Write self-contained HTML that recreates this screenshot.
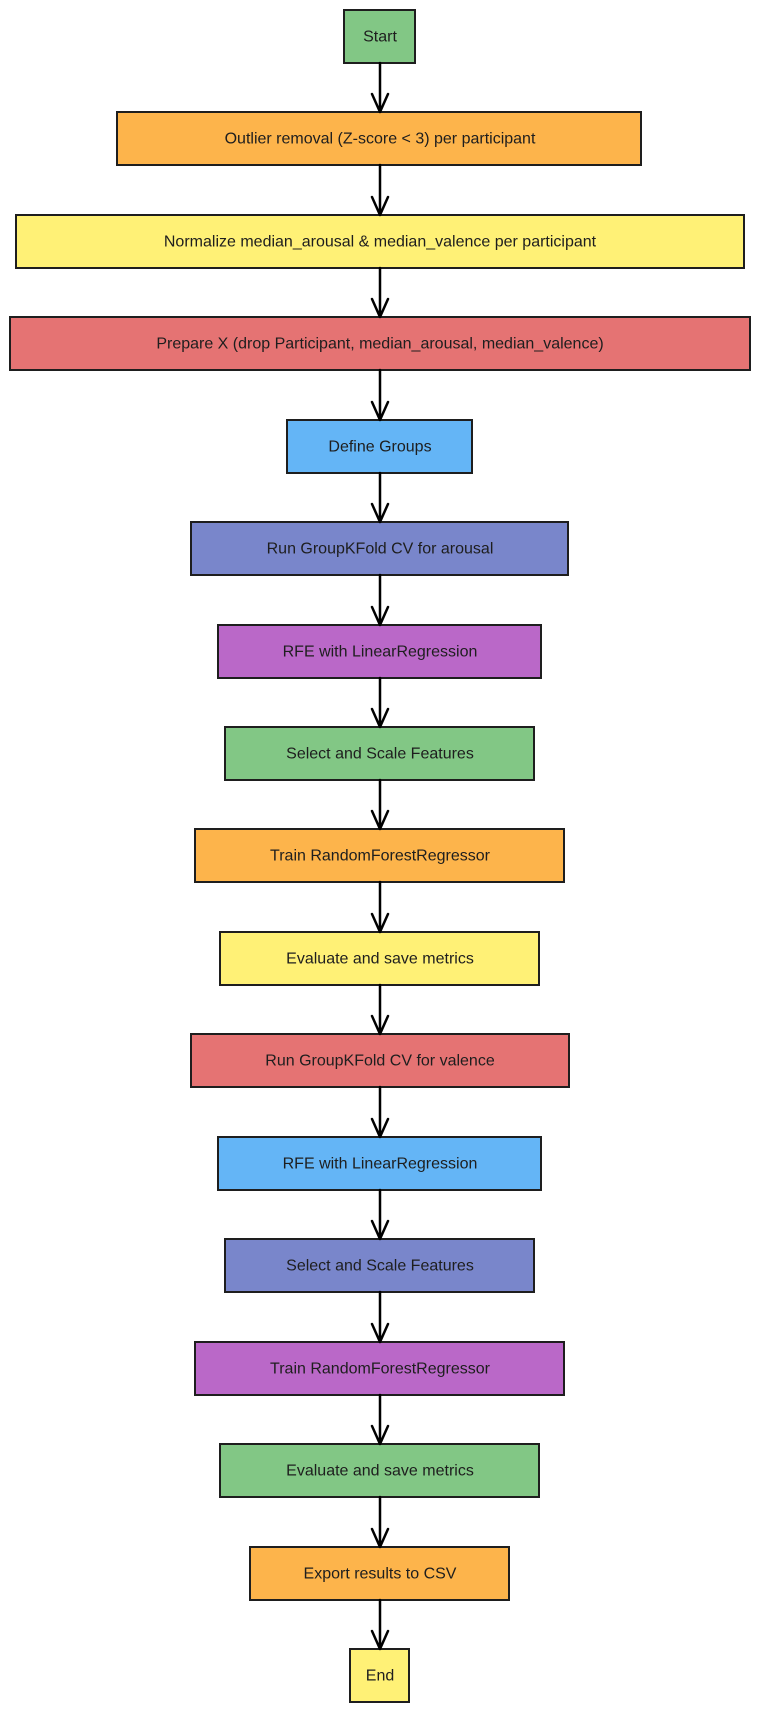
<!DOCTYPE html>
<html><head><meta charset="utf-8"><style>
html,body{margin:0;padding:0;background:#fff;}
svg{display:block;}
text{font-family:"Liberation Sans",sans-serif;font-size:16px;fill:#1e1e1e;text-anchor:middle;dominant-baseline:central;}
rect{stroke:#1e1e1e;stroke-width:2;}
.a{stroke:#000;stroke-width:2.5;fill:none;stroke-linecap:round;stroke-linejoin:round;}
</style></head><body>
<svg width="757" height="1713" viewBox="0 0 757 1713" xmlns="http://www.w3.org/2000/svg">
<g>
<rect x="344" y="10" width="71" height="53" fill="#82c785"/><text x="380" y="37">Start</text>
<rect x="117" y="112" width="524" height="53" fill="#fdb44b"/><text x="380" y="139">Outlier removal (Z-score &lt; 3) per participant</text>
<rect x="16" y="215" width="728" height="53" fill="#fff176"/><text x="380" y="242">Normalize median_arousal &amp; median_valence per participant</text>
<rect x="10" y="317" width="740" height="53" fill="#e57373"/><text x="380" y="344">Prepare X (drop Participant, median_arousal, median_valence)</text>
<rect x="287" y="420" width="185" height="53" fill="#64b5f6"/><text x="380" y="447">Define Groups</text>
<rect x="191" y="522" width="377" height="53" fill="#7986cb"/><text x="380" y="549">Run GroupKFold CV for arousal</text>
<rect x="218" y="625" width="323" height="53" fill="#ba68c8"/><text x="380" y="652">RFE with LinearRegression</text>
<rect x="225" y="727" width="309" height="53" fill="#82c785"/><text x="380" y="754">Select and Scale Features</text>
<rect x="195" y="829" width="369" height="53" fill="#fdb44b"/><text x="380" y="856">Train RandomForestRegressor</text>
<rect x="220" y="932" width="319" height="53" fill="#fff176"/><text x="380" y="959">Evaluate and save metrics</text>
<rect x="191" y="1034" width="378" height="53" fill="#e57373"/><text x="380" y="1061">Run GroupKFold CV for valence</text>
<rect x="218" y="1137" width="323" height="53" fill="#64b5f6"/><text x="380" y="1164">RFE with LinearRegression</text>
<rect x="225" y="1239" width="309" height="53" fill="#7986cb"/><text x="380" y="1266">Select and Scale Features</text>
<rect x="195" y="1342" width="369" height="53" fill="#ba68c8"/><text x="380" y="1369">Train RandomForestRegressor</text>
<rect x="220" y="1444" width="319" height="53" fill="#82c785"/><text x="380" y="1471">Evaluate and save metrics</text>
<rect x="250" y="1547" width="259" height="53" fill="#fdb44b"/><text x="380" y="1574">Export results to CSV</text>
<rect x="350" y="1649" width="59" height="53" fill="#fff176"/><text x="380" y="1676">End</text>
</g>
<g>
<path class="a" d="M380 63V112M372 94L380 112L388 94"/>
<path class="a" d="M380 165V215M372 197L380 215L388 197"/>
<path class="a" d="M380 268V317M372 299L380 317L388 299"/>
<path class="a" d="M380 370V420M372 402L380 420L388 402"/>
<path class="a" d="M380 473V522M372 504L380 522L388 504"/>
<path class="a" d="M380 575V625M372 607L380 625L388 607"/>
<path class="a" d="M380 678V727M372 709L380 727L388 709"/>
<path class="a" d="M380 780V829M372 811L380 829L388 811"/>
<path class="a" d="M380 882V932M372 914L380 932L388 914"/>
<path class="a" d="M380 985V1034M372 1016L380 1034L388 1016"/>
<path class="a" d="M380 1087V1137M372 1119L380 1137L388 1119"/>
<path class="a" d="M380 1190V1239M372 1221L380 1239L388 1221"/>
<path class="a" d="M380 1292V1342M372 1324L380 1342L388 1324"/>
<path class="a" d="M380 1395V1444M372 1426L380 1444L388 1426"/>
<path class="a" d="M380 1497V1547M372 1529L380 1547L388 1529"/>
<path class="a" d="M380 1600V1649M372 1631L380 1649L388 1631"/>
</g>
</svg>
</body></html>
